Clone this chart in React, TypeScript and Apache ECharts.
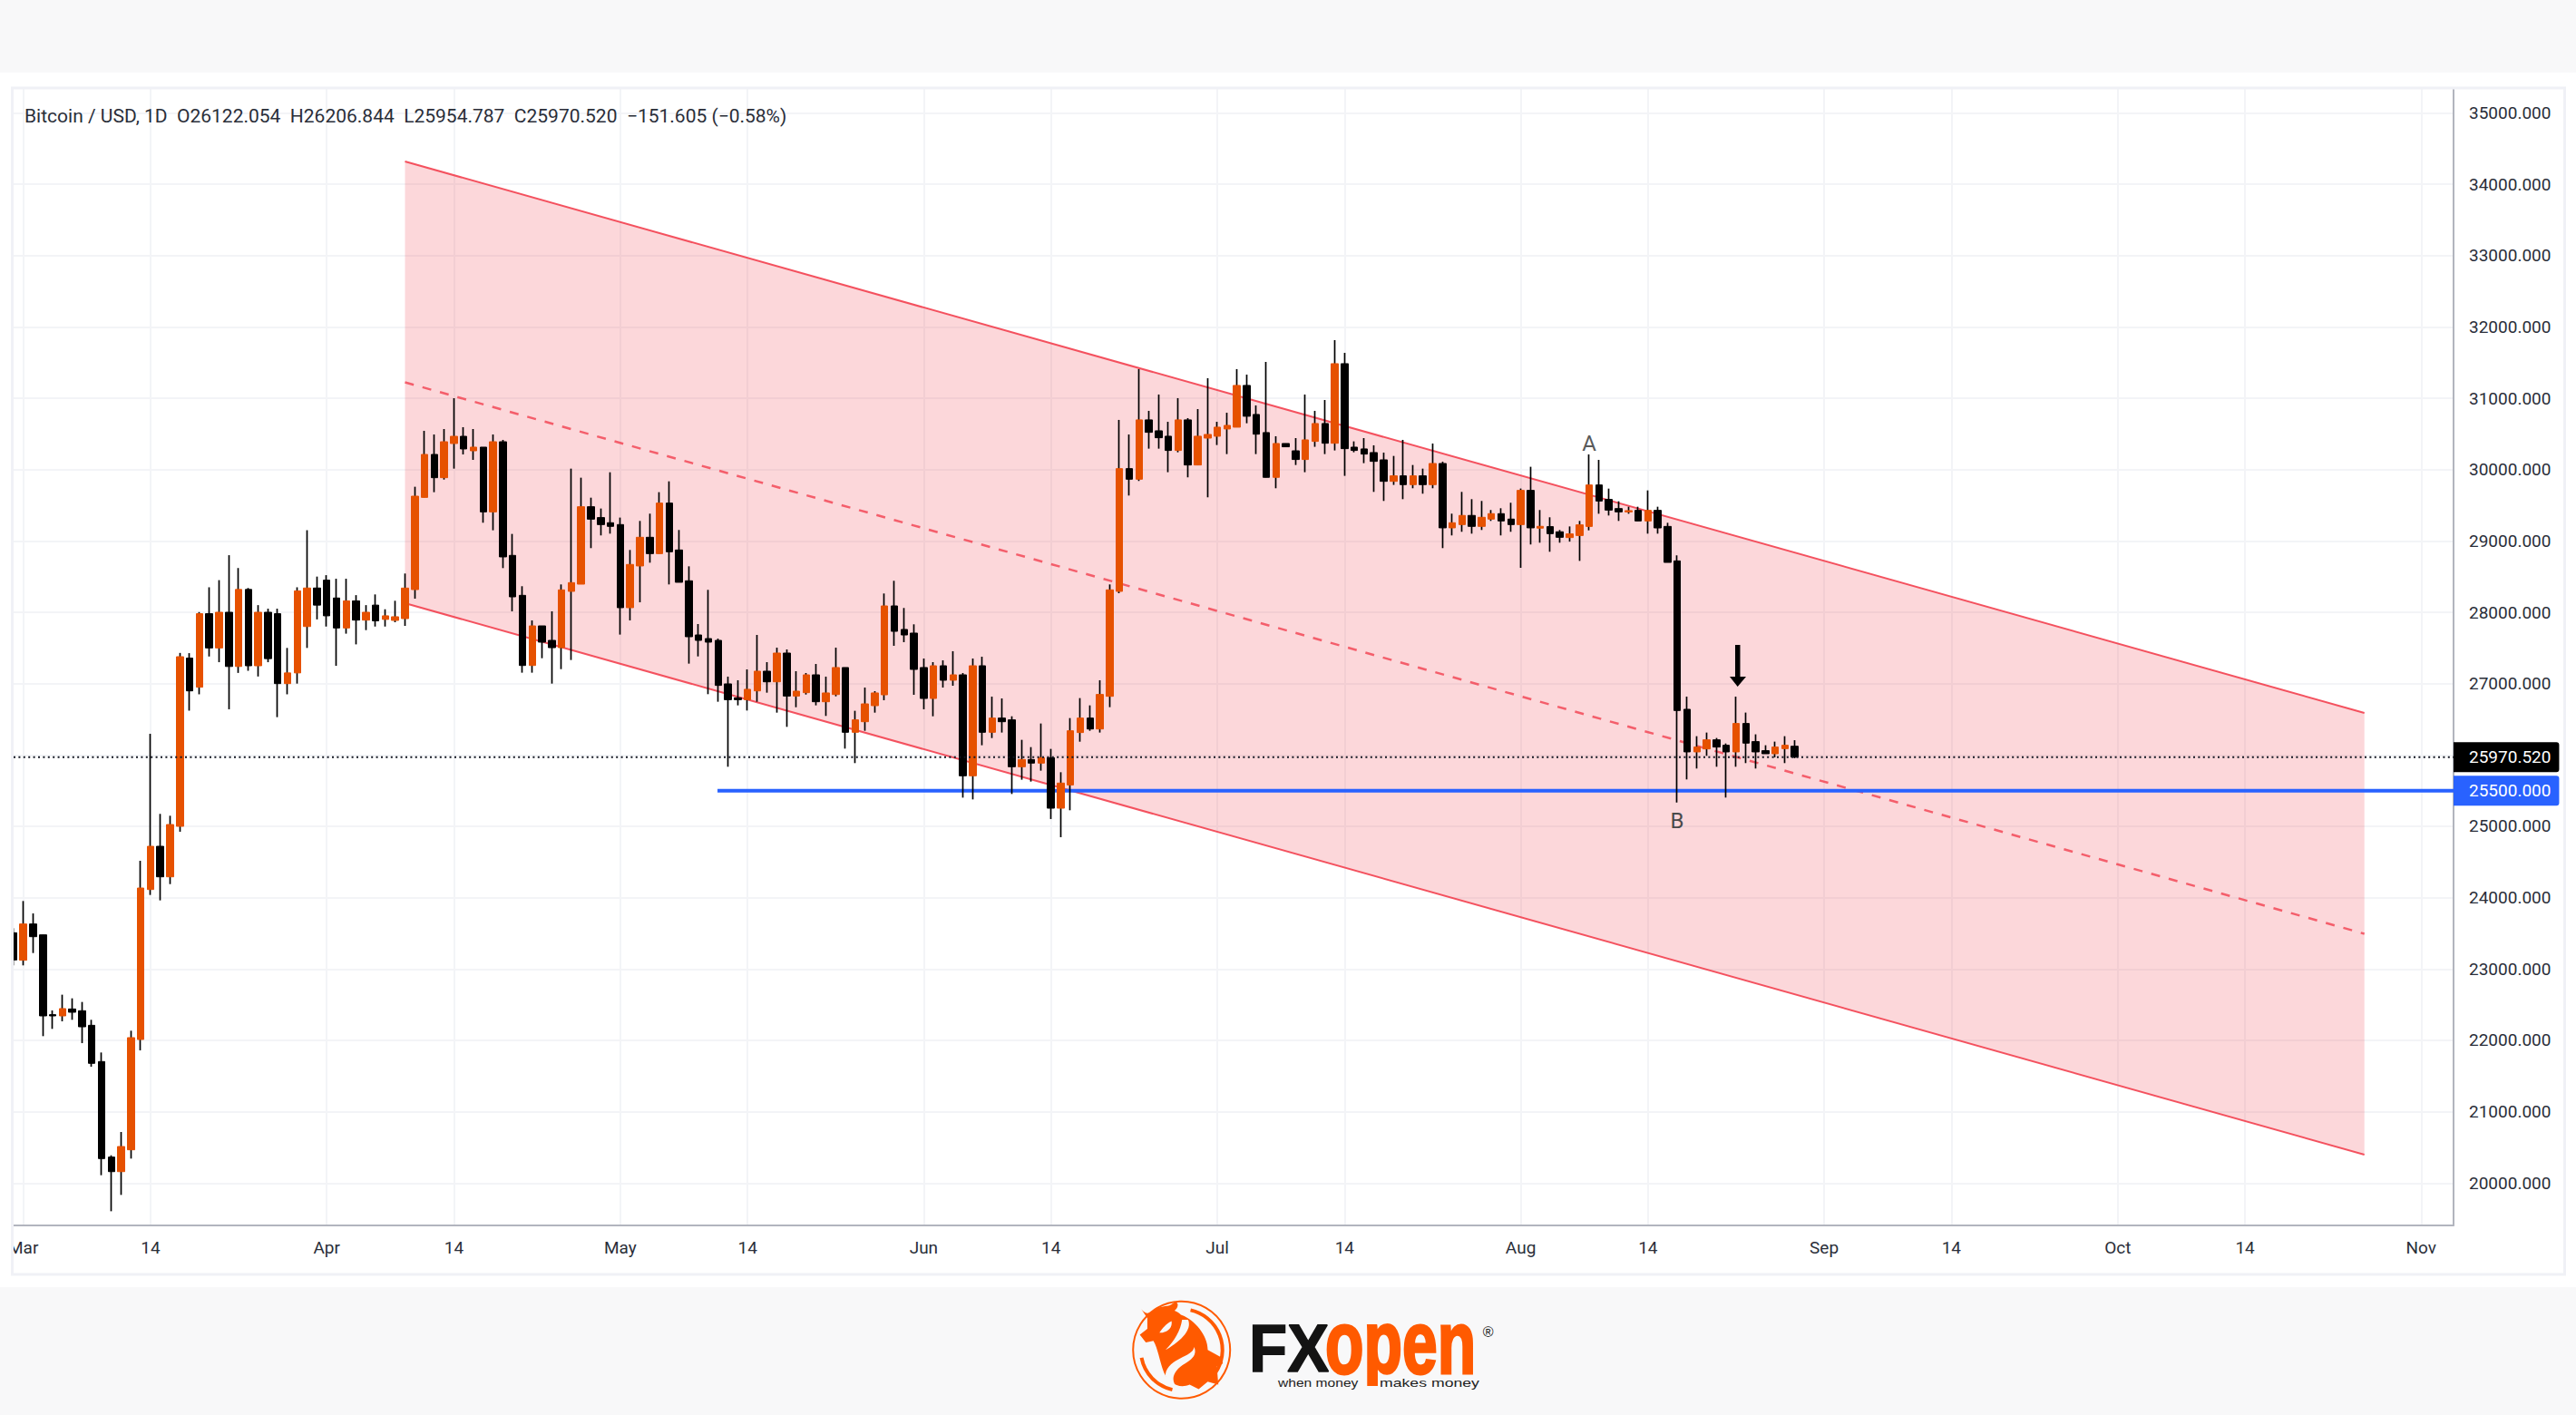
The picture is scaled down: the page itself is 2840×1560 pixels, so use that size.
import React, { useEffect, useRef } from "react";
import * as echarts from "echarts";

// Each row: [open, high, low, close]
const february = [[23508, 23572, 23051, 23127]];
const march = [
  [23123, 23953, 23051, 23631], [23631, 23779, 23224, 23453], [23479, 23479, 22059, 22343], [22360, 22419, 22161, 22343],
  [22343, 22640, 22267, 22445], [22440, 22589, 22288, 22394], [22415, 22538, 21961, 22190], [22211, 22288, 21631, 21678],
  [21703, 21830, 20110, 20343], [20364, 20389, 19605, 20160], [20160, 20716, 19834, 20512], [20466, 22135, 20343, 22038],
  [22012, 24517, 21860, 24135], [24114, 26297, 24038, 24720], [24720, 25174, 23962, 24292], [24292, 25148, 24190, 25025],
  [25000, 27430, 24924, 27377], [27358, 27427, 26621, 26898], [26950, 28003, 26850, 27980], [27980, 28350, 27380, 27500],
  [27500, 28450, 27300, 28000], [28000, 28800, 26640, 27240], [27240, 28620, 27150, 28320], [28320, 28340, 27180, 27250],
  [27250, 28100, 27100, 28000], [28000, 28050, 27300, 27350], [27980, 28050, 26530, 27000], [27000, 27500, 26850, 27150],
  [27150, 28350, 27000, 28300], [27800, 29150, 27500, 28340], [28340, 28500, 27900, 28100],
];
const april = [
  [28450, 28520, 27800, 27950], [28200, 28470, 27250, 27780], [27780, 28470, 27700, 28160], [28160, 28240, 27550, 27890],
  [27890, 28100, 27750, 28000], [28100, 28250, 27800, 27880], [27900, 28042, 27800, 27950], [27886, 28161, 27860, 27937],
  [27911, 28543, 27809, 28339], [28318, 29759, 28191, 29627], [29610, 30543, 29610, 30212], [30212, 30492, 29683, 29886],
  [29886, 30568, 29860, 30390], [30365, 31000, 30013, 30466], [30466, 30594, 30212, 30289], [30263, 30568, 30136, 30314],
  [30314, 30314, 29255, 29407], [29407, 30492, 29149, 30390], [30390, 30416, 28619, 28776], [28797, 29098, 28013, 28216],
  [28237, 28365, 27153, 27254], [27254, 27886, 27153, 27809], [27809, 27809, 27356, 27581], [27606, 28013, 27000, 27504],
  [27504, 28390, 27203, 28314], [28293, 30013, 27331, 28415], [28394, 29886, 28394, 29479], [29479, 29606, 28899, 29305],
  [29327, 29454, 29077, 29229], [29255, 29962, 29102, 29204],
];
const may = [
  [29229, 29327, 27687, 28064], [28064, 28873, 27886, 28670], [28649, 29280, 28140, 29051], [29051, 29382, 28695, 28822],
  [28822, 29683, 28822, 29530], [29530, 29835, 28390, 28848], [28873, 29153, 28420, 28420], [28441, 28644, 27280, 27657],
  [27682, 27835, 27381, 27606], [27631, 28314, 26852, 27581], [27606, 27631, 26746, 26975], [26996, 27098, 25835, 26775],
  [26801, 27047, 26695, 26775], [26775, 27199, 26623, 26920], [26898, 27682, 26746, 27174], [27174, 27301, 26873, 27025],
  [27025, 27504, 26593, 27428], [27428, 27479, 26394, 26826], [26826, 27174, 26669, 26894], [26873, 27148, 26847, 27123],
  [27123, 27275, 26695, 26746], [26746, 27098, 26547, 26869], [26847, 27504, 26822, 27225], [27225, 27225, 26089, 26318],
  [26318, 26619, 25886, 26492], [26466, 26945, 26339, 26716], [26691, 26894, 26593, 26869], [26843, 28263, 26767, 28089],
  [28089, 28441, 27530, 27733], [27759, 28060, 27581, 27682], [27708, 27831, 26843, 27199],
];
const june = [
  [27225, 27352, 26640, 26792], [26792, 27301, 26542, 27250], [27250, 27326, 26945, 27047], [27047, 27454, 26970, 27123],
  [27123, 27148, 25402, 25708], [25708, 27352, 25377, 27250], [27250, 27377, 26136, 26318], [26318, 26818, 26237, 26517],
  [26517, 26792, 26314, 26466], [26492, 26542, 25453, 25835], [25835, 26212, 25653, 25936], [25936, 26110, 25627, 25886],
  [25886, 26441, 25780, 25962], [25962, 26085, 25102, 25254], [25254, 25758, 24847, 25606], [25580, 26517, 25225, 26339],
  [26314, 26797, 26186, 26517], [26517, 26695, 26339, 26364], [26364, 27047, 26314, 26848], [26822, 28390, 26670, 28314],
  [28293, 30696, 28267, 30013], [30013, 30492, 29636, 29865], [29865, 31408, 29840, 30696], [30696, 30823, 30293, 30522],
  [30543, 31052, 30293, 30446], [30467, 30670, 29963, 30268], [30268, 31001, 30242, 30696], [30696, 30721, 29891, 30064],
  [30064, 30848, 30064, 30467], [30441, 31280, 29611, 30492],
];
const july = [
  [30467, 30670, 30344, 30594], [30569, 30797, 30217, 30619], [30594, 31408, 30594, 31179], [31179, 31331, 30649, 30747],
  [30772, 30899, 30217, 30496], [30518, 31509, 29891, 29891], [29891, 30467, 29738, 30365], [30365, 30365, 30319, 30319],
  [30263, 30441, 30064, 30141], [30141, 31052, 29963, 30416], [30395, 30823, 30319, 30645], [30645, 30975, 30217, 30369],
  [30369, 31814, 30268, 31484], [31484, 31636, 29912, 30293], [30314, 30395, 30242, 30268], [30289, 30441, 30090, 30217],
  [30238, 30340, 29687, 30115], [30136, 30238, 29560, 29835], [29835, 30191, 29785, 29912], [29912, 30416, 29585, 29789],
  [29789, 30064, 29738, 29912], [29912, 30013, 29662, 29789], [29789, 30365, 29738, 30085], [30085, 30111, 28899, 29183],
  [29183, 29382, 29077, 29255], [29229, 29687, 29128, 29357], [29357, 29585, 29102, 29204], [29204, 29560, 29153, 29331],
  [29306, 29433, 29280, 29382], [29382, 29458, 29077, 29280], [29306, 29535, 29128, 29229],
];
const august = [
  [29229, 29734, 28623, 29708], [29708, 30039, 28950, 29183], [29179, 29433, 28975, 29204], [29200, 29331, 28848, 29102],
  [29128, 29153, 28975, 29051], [29047, 29203, 28990, 29098], [29076, 29280, 28720, 29225], [29203, 30212, 29148, 29784],
  [29784, 30136, 29381, 29559], [29581, 29733, 29356, 29432], [29453, 29555, 29280, 29407], [29407, 29479, 29381, 29424],
  [29428, 29479, 29280, 29280], [29280, 29708, 29102, 29428], [29428, 29479, 29102, 29182], [29203, 29254, 28699, 28699],
  [28720, 28797, 25335, 26623], [26640, 26818, 25657, 26043], [26043, 26263, 25810, 26111], [26085, 26314, 25988, 26212],
  [26212, 26238, 25835, 26111], [26136, 26161, 25403, 26043], [26043, 26818, 25835, 26441], [26441, 26594, 25886, 26166],
  [26187, 26289, 25810, 26043], [26060, 26136, 26017, 26017], [26017, 26187, 25966, 26111], [26089, 26263, 25886, 26136],
  [26122.054, 26206.844, 25954.787, 25970.52],
];
const firstDay = -1; // index 0 is 1 March
const candles = [...february, ...march, ...april, ...may, ...june, ...july, ...august];

const tickDays = [0, 13, 31, 44, 61, 74, 92, 105, 122, 135, 153, 166, 184, 197, 214, 227, 245];
const tickNames = ["Mar", "14", "Apr", "14", "May", "14", "Jun", "14", "Jul", "14", "Aug", "14", "Sep", "14", "Oct", "14", "Nov"];
const priceTicks = [20000, 21000, 22000, 23000, 24000, 25000, 26000, 27000, 28000, 29000, 30000, 31000, 32000, 33000, 34000, 35000];

const channelDays = [39, 239.2];
const channelUpper = [34318, 26589];
const channelMiddle = [31223, 23494];
const channelLower = [28127, 20398];
const supportLevel = 25500;
const supportStartDay = 70.93;
const lastPrice = 25970.52;
const axisMinDay = -0.99;
const axisMaxDay = 248.31;
const legendText = "Bitcoin / USD, 1D  O26122.054  H26206.844  L25954.787  C25970.520  \u2212151.605 (\u22120.58%)";

const FONT = "Roboto";
const ORANGE = "#e65100";
const RED = "#f23645";
const LOGO_ORANGE = "#ff5a00";
const STRIP = "#f8f8f9";

echarts.graphic.registerShape(
  "fxBody",
  echarts.graphic.extendPath(
    "M175 130C190 150 205 145 222 130C245 115 265 125 280 110C300 100 300 125 285 135C300 140 305 150 310 150C350 165 395 215 395 265L440 290L445 310L425 320L430 380L395 370L365 395L335 380C300 395 265 375 250 340C235 300 230 260 215 235L190 240L170 215L195 195L195 160Z",
    {}
  )
);
echarts.graphic.registerShape(
  "fxSwirl",
  echarts.graphic.extendPath(
    "M330 165C345 200 300 240 255 265C285 235 305 200 310 165ZM350 255C345 290 265 290 255 345C255 370 275 385 290 385C270 360 285 330 320 310C345 295 360 280 350 255ZM275 170C280 195 255 210 235 208C245 195 255 180 275 170Z",
    {}
  )
);

export default function App() {
  const ref = useRef<HTMLDivElement>(null);
  useEffect(() => {
    if (!ref.current) return;
    const chart = echarts.init(ref.current, undefined, { renderer: "svg" });
    const wicks = candles.map((c, i) => [firstDay + i, c[0], c[3], c[2], c[1]]);
    const bodies = candles.map((c, i) => [firstDay + i, c[0], c[3], Math.min(c[0], c[3]), Math.max(c[0], c[3])]);
    const lineOf = (vals: number[]) => channelDays.map((d, i) => [d, vals[i]]);
    const lo = { x: 1200, y: 1400, scaleX: 1 / 3, scaleY: 1 / 3 };
    const tagLabel = (bg: string, value: number) => ({
      show: true,
      distance: 0,
      formatter: () => value.toFixed(3),
      fontFamily: FONT,
      fontSize: 19,
      color: "#ffffff",
      backgroundColor: bg,
      padding: [7, 9, 7, 17],
      borderRadius: [0, 3, 3, 0],
    });
    chart.setOption({
      animation: false,
      backgroundColor: "#ffffff",
      title: {
        text: legendText,
        left: 22,
        top: 112,
        textStyle: { fontFamily: FONT, fontSize: 21, fontWeight: "normal", color: "#2a2e39" },
      },
      grid: { left: 15, top: 97, width: 2690, height: 1253.7, containLabel: false },
      xAxis: {
        type: "value",
        min: axisMinDay,
        max: axisMaxDay,
        axisLine: { onZero: false, lineStyle: { color: "#b2b5be", width: 2 } },
        axisTick: { show: false, customValues: tickDays },
        axisLabel: {
          customValues: tickDays,
          margin: 15,
          fontFamily: FONT,
          fontSize: 19,
          color: "#2a2e39",
          formatter: (v: number) => tickNames[tickDays.indexOf(v)] ?? "",
        },
        splitLine: { show: true, lineStyle: { color: "#f3f4f7", width: 2 } },
      },
      yAxis: {
        type: "value",
        position: "right",
        min: 19410,
        max: 35348,
        axisLine: { show: true, onZero: false, lineStyle: { color: "#b2b5be", width: 2 } },
        axisTick: { show: false, customValues: priceTicks },
        axisLabel: {
          customValues: priceTicks,
          margin: 17,
          fontFamily: FONT,
          fontSize: 19,
          color: "#2a2e39",
          formatter: (v: number) => (v === 26000 ? "" : v.toFixed(3)),
        },
        splitLine: { show: true, lineStyle: { color: "#f3f4f7", width: 2 } },
      },
      series: [
        {
          type: "custom",
          name: "Channel",
          z: 1,
          silent: true,
          data: [[channelDays[0], channelUpper[0], channelLower[0], channelDays[1], channelUpper[1], channelLower[1]]],
          encode: { x: [0, 3], y: [1, 2, 4, 5] },
          renderItem: (_: any, api: any) => {
            const p = [
              api.coord([api.value(0), api.value(1)]),
              api.coord([api.value(3), api.value(4)]),
              api.coord([api.value(3), api.value(5)]),
              api.coord([api.value(0), api.value(2)]),
            ];
            return { type: "polygon", shape: { points: p }, style: { fill: "rgba(242,54,69,0.2)" } };
          },
        },
        { type: "line", name: "Upper", z: 2, symbol: "none", silent: true, data: lineOf(channelUpper), lineStyle: { color: RED, width: 2, opacity: 0.85 } },
        { type: "line", name: "Lower", z: 2, symbol: "none", silent: true, data: lineOf(channelLower), lineStyle: { color: RED, width: 2, opacity: 0.85 } },
        { type: "line", name: "Middle", z: 2, symbol: "none", silent: true, data: lineOf(channelMiddle), lineStyle: { color: RED, width: 2.5, opacity: 0.75, type: [10, 10] } },
        {
          type: "line",
          name: "Support",
          z: 3,
          symbol: "none",
          silent: true,
          data: [[supportStartDay, supportLevel], [axisMaxDay, supportLevel]],
          lineStyle: { color: "#2962ff", width: 4 },
          endLabel: tagLabel("#2962ff", supportLevel),
        },
        {
          type: "candlestick",
          name: "BTCUSD wicks",
          z: 4,
          barWidth: 0.01,
          data: wicks,
          encode: { x: 0, y: [1, 2, 3, 4] },
          itemStyle: { color: "#000000", color0: "#000000", borderColor: "#000000", borderColor0: "#000000", borderWidth: 1.7 },
        },
        {
          type: "candlestick",
          name: "BTCUSD",
          z: 5,
          barWidth: 8,
          data: bodies,
          encode: { x: 0, y: [1, 2, 3, 4] },
          itemStyle: { color: ORANGE, color0: "#000000", borderColor: ORANGE, borderColor0: "#000000", borderWidth: 1 },
        },
        {
          type: "line",
          name: "Last",
          z: 6,
          symbol: "none",
          silent: true,
          data: [[axisMinDay, lastPrice], [axisMaxDay, lastPrice]],
          lineStyle: { color: "#131722", width: 2, type: [2, 3.4] },
          endLabel: tagLabel("#000000", lastPrice),
        },
      ],
      graphic: [
        { type: "rect", z: -1, shape: { x: 0, y: 0, width: 2840, height: 80 }, style: { fill: STRIP } },
        { type: "rect", z: -1, shape: { x: 0, y: 1419, width: 2840, height: 141 }, style: { fill: STRIP } },
        { type: "rect", z: 100, shape: { x: 0, y: 90, width: 15, height: 1320 }, style: { fill: "#ffffff" } },
        { type: "rect", z: 101, shape: { x: 13.5, y: 97, width: 2814, height: 1308 }, style: { fill: "none", stroke: "#f0f1f6", lineWidth: 3 } },
        { type: "text", z: 50, x: 1752, y: 489, style: { text: "A", font: "24px Roboto", fill: "#5a5a5a", textAlign: "center", textVerticalAlign: "middle" } },
        { type: "text", z: 50, x: 1849, y: 905, style: { text: "B", font: "24px Roboto", fill: "#4a4a4a", textAlign: "center", textVerticalAlign: "middle" } },
        {
          type: "polygon",
          z: 50,
          shape: { points: [[1913, 711], [1918.5, 711], [1918.5, 746], [1925, 746], [1915.7, 757], [1907, 746], [1913, 746]] },
          style: { fill: "#000000" },
        },
        { type: "circle", z: 50, shape: { cx: 1302.7, cy: 1488.3, r: 53.5 }, style: { fill: "none", stroke: LOGO_ORANGE, lineWidth: 2 } },
        { type: "arc", z: 50, shape: { cx: 1302.7, cy: 1488.3, r: 45, startAngle: -1.35, endAngle: 0.6, clockwise: true }, style: { fill: "none", stroke: LOGO_ORANGE, lineWidth: 4 } },
        { type: "arc", z: 50, shape: { cx: 1302.7, cy: 1488.3, r: 45, startAngle: 1.8, endAngle: 2.95, clockwise: true }, style: { fill: "none", stroke: LOGO_ORANGE, lineWidth: 4 } },
        { type: "fxBody", z: 51, ...lo, style: { fill: LOGO_ORANGE } },
        { type: "fxSwirl", z: 52, ...lo, style: { fill: STRIP } },
        { type: "text", z: 54, x: 1461, y: 1529, scaleX: 0.71, style: { text: "open", font: "bold 98px 'Liberation Sans'", fill: LOGO_ORANGE, stroke: LOGO_ORANGE, lineWidth: 3, textVerticalAlign: "bottom" } },
        { type: "rect", z: 55, shape: { x: 1470, y: 1528, width: 60, height: 14 }, style: { fill: STRIP } },
        { type: "text", z: 56, x: 1377, y: 1523, scaleX: 0.92, style: { text: "FX", font: "bold 75px 'Liberation Sans'", fill: "#131313", stroke: "#131313", lineWidth: 1.5, textVerticalAlign: "bottom" } },
        { type: "text", z: 57, x: 1409, y: 1524, scaleX: 1.2, style: { text: "when money", font: "13px 'Liberation Sans'", fill: "#222222", textVerticalAlign: "middle" } },
        { type: "text", z: 57, x: 1521, y: 1524, scaleX: 1.36, style: { text: "makes money", font: "13px 'Liberation Sans'", fill: "#222222", textVerticalAlign: "middle" } },
        { type: "text", z: 57, x: 1640.7, y: 1468, style: { text: "\u00ae", font: "16px 'Liberation Sans'", fill: "#222222", textAlign: "center", textVerticalAlign: "middle" } },
      ],
    });
    return () => chart.dispose();
  }, []);
  return <div ref={ref} style={{ position: "fixed", left: 0, top: 0, width: 2840, height: 1560 }} />;
}
